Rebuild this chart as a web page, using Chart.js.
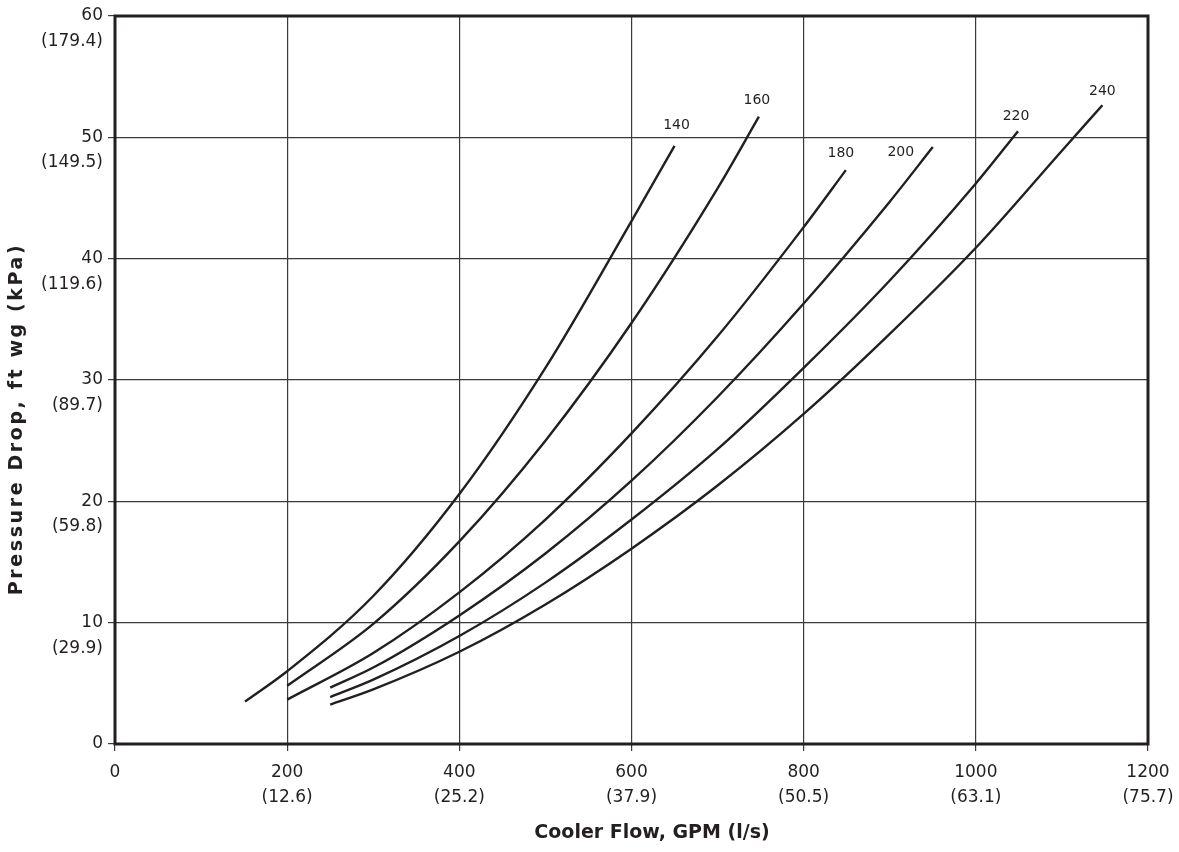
<!DOCTYPE html>
<html>
<head>
<meta charset="utf-8">
<style>
  html, body { margin: 0; padding: 0; background: #ffffff; }
  #wrap { width: 1179px; height: 852px; position: relative; }
</style>
<script src="https://cdn.jsdelivr.net/npm/chart.js@4.4.1/dist/chart.umd.min.js"></script>
</head>
<body>
<div id="wrap"><canvas id="c" width="1179" height="852"></canvas></div>
<script>
// ---- Tick labels ----
const xTickGpm = [0, 200, 400, 600, 800, 1000, 1200];
const xTickLps = ['', '(12.6)', '(25.2)', '(37.9)', '(50.5)', '(63.1)', '(75.7)'];
const yTickFt  = [0, 10, 20, 30, 40, 50, 60];
const yTickKpa = ['', '(29.9)', '(59.8)', '(89.7)', '(119.6)', '(149.5)', '(179.4)'];
const xTitle = 'Cooler Flow, GPM (l/s)';
const yTitle = 'Pressure Drop, ft wg (kPa)';

// ---- Series (cooler size) ----
const seriesNames = ['140', '160', '180', '200', '220', '240'];
const flow140 = [151, 200, 300, 400, 500, 600, 650];
const drop140 = [3.5, 6.0, 12.2, 20.6, 31.0, 43.1, 49.3];
const flow160 = [200, 300, 400, 500, 600, 700, 748];
const drop160 = [4.8, 9.9, 16.7, 25.0, 34.7, 45.8, 51.7];
const flow180 = [200, 300, 400, 500, 600, 700, 800, 849];
const drop180 = [3.66, 7.5, 12.5, 18.5, 25.6, 33.6, 42.6, 47.3];
const flow200 = [250, 300, 400, 500, 600, 700, 800, 900, 950];
const drop200 = [4.65, 6.3, 10.6, 15.7, 21.7, 28.6, 36.3, 44.7, 49.2];
const flow220 = [250, 300, 400, 500, 600, 700, 800, 900, 1000, 1049];
const drop220 = [3.87, 5.3, 8.9, 13.3, 18.5, 24.3, 31.0, 38.2, 46.2, 50.5];
const flow240 = [250, 300, 400, 500, 600, 700, 800, 900, 1000, 1100, 1147];
const drop240 = [3.25, 4.5, 7.6, 11.5, 16.1, 21.3, 27.2, 33.8, 40.9, 48.9, 52.65];

const flows = [flow140, flow160, flow180, flow200, flow220, flow240];
const drops = [drop140, drop160, drop180, drop200, drop220, drop240];
// label offset (px) from the end of each curve
const labelOffsets = [[2, -20], [-2, -16], [-5, -17], [-32, 5], [-2, -15], [0, -14]];

const INK = '#231f20';
const FONT = '"DejaVu Sans", "Liberation Sans", Arial, sans-serif';

const datasets = seriesNames.map((name, i) => ({
  label: name,
  data: flows[i].map((f, j) => ({ x: f, y: drops[i][j] })),
  borderColor: INK,
  backgroundColor: INK,
  borderWidth: 2.4,
  pointRadius: 0,
  fill: false,
  cubicInterpolationMode: 'monotone',
  labelOffset: labelOffsets[i]
}));

const framePlugin = {
  id: 'frame',
  afterDatasetsDraw(chart) {
    const { ctx, chartArea: a } = chart;
    ctx.save();
    // curve labels
    ctx.fillStyle = INK;
    ctx.font = '14px ' + FONT;
    ctx.textAlign = 'center';
    ctx.textBaseline = 'middle';
    chart.data.datasets.forEach((ds, i) => {
      const meta = chart.getDatasetMeta(i);
      const pt = meta.data[meta.data.length - 1];
      ctx.fillText(ds.label, pt.x + ds.labelOffset[0], pt.y + ds.labelOffset[1]);
    });
    // frame
    ctx.strokeStyle = INK;
    ctx.lineWidth = 3;
    ctx.strokeRect(a.left, a.top, a.right - a.left, a.bottom - a.top);
    // axis titles
    ctx.font = 'bold 19px ' + FONT;
    ctx.fillText(xTitle, 652, 833);
    ctx.translate(17, 419);
    ctx.rotate(-Math.PI / 2);
    if ('letterSpacing' in ctx) ctx.letterSpacing = '2.6px';
    ctx.fillText(yTitle, 0, 0);
    ctx.restore();
  }
};

new Chart(document.getElementById('c'), {
  type: 'line',
  data: { datasets },
  options: {
    responsive: false,
    animation: false,
    layout: { padding: { top: 16, right: 31, left: 0, bottom: 0 } },
    plugins: { legend: { display: false }, tooltip: { enabled: false } },
    scales: {
      x: {
        type: 'linear',
        min: 0, max: 1200,
        afterBuildTicks: (s) => { s.ticks = xTickGpm.map(v => ({ value: v })); },
        afterFit: (s) => { s.height = 108; s.paddingLeft = 0; s.paddingRight = 0; },
        ticks: {
          autoSkip: false, maxRotation: 0, minRotation: 0,
          color: INK,
          font: { family: FONT, size: 17, lineHeight: 1.47 },
          padding: 9,
          callback: (v) => {
            const i = xTickGpm.indexOf(v);
            return xTickLps[i] ? [String(v), xTickLps[i]] : String(v);
          }
        },
        grid: { color: '#3a3a3a', lineWidth: 1.2, tickLength: 7, drawTicks: true },
        border: { display: false }
      },
      y: {
        type: 'linear',
        min: 0, max: 60,
        afterBuildTicks: (s) => { s.ticks = yTickFt.map(v => ({ value: v })); },
        afterFit: (s) => { s.width = 115; s.paddingTop = 0; s.paddingBottom = 0; },
        ticks: {
          color: INK,
          font: { family: FONT, size: 17, lineHeight: 1.5 },
          padding: 5,
          callback: (v) => {
            const i = yTickFt.indexOf(v);
            return yTickKpa[i] ? ['', String(v), yTickKpa[i]] : String(v);
          }
        },
        grid: { color: '#3a3a3a', lineWidth: 1.2, tickLength: 7, drawTicks: true },
        border: { display: false }
      }
    }
  },
  plugins: [framePlugin]
});
</script>
</body>
</html>
